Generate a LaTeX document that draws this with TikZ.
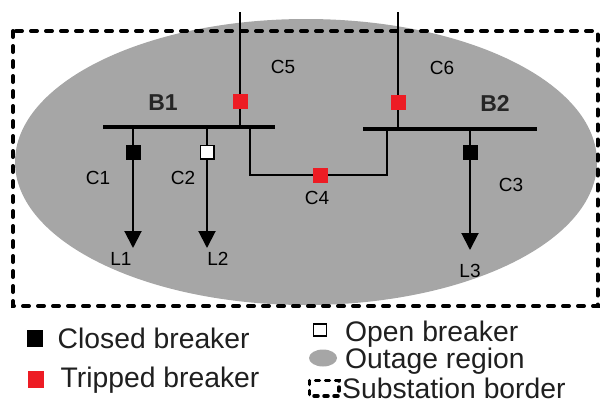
\documentclass[tikz,border=0pt]{standalone}
\usepackage{fontspec}
\setmainfont{Liberation Sans}
\usetikzlibrary{arrows.meta}
\definecolor{tripred}{RGB}{237,28,36}
\definecolor{outagegray}{RGB}{166,166,166}
\begin{document}
\begin{tikzpicture}[x=1pt,y=-1pt,
  brk/.style={minimum size=15pt, inner sep=0pt, outer sep=0pt},
  closedbrk/.style={brk, fill=black},
  openbrk/.style={brk, fill=white, draw=black, line width=1.5pt, minimum size=13.5pt},
  tripbrk/.style={brk, fill=tripred},
  lbl/.style={font=\fontsize{19}{22}\selectfont, inner sep=0pt, text depth=0pt},
  buslbl/.style={font=\bfseries\fontsize{23}{26}\selectfont, text=black!85, inner sep=0pt, text depth=0pt},
  legtext/.style={font=\fontsize{28.3}{34}\selectfont, inner sep=0pt, anchor=base west, text=black!88},
  legsq/.style={minimum width=16pt, minimum height=17pt, inner sep=0pt},
  bus/.style={line width=4pt},
  wire/.style={line width=2pt},
  load/.style={wire, -{Triangle[width=17pt,length=17pt]}},
  border/.style={line width=4pt, dash pattern=on 6pt off 9pt, line cap=round},
  outage/.style={fill=outagegray}
]
\useasboundingbox (0,0) rectangle (600,405);

% outage region
\fill[outage] (306,162) ellipse [x radius=291, y radius=143];
% substation border
\draw[border] (13,31) rectangle (597.5,306);

% buses
\coordinate (B1L) at (103,127);
\coordinate (B1R) at (275,127);
\coordinate (B2L) at (363,129);
\coordinate (B2R) at (537,129);
\draw[bus] (B1L) -- (B1R);
\draw[bus] (B2L) -- (B2R);
\node[buslbl] (B1) at (163,103) {B1};
\node[buslbl] (B2) at (495,103) {B2};

% incoming feeders
\coordinate (t5) at (240,12);
\coordinate (j5) at (240,127);
\coordinate (t6) at (398,12);
\coordinate (j6) at (398,129);
\draw[wire] (t5) -- (j5);
\draw[wire] (t6) -- (j6);
\node[tripbrk] (c5brk) at (240,101) {};
\node[tripbrk] (c6brk) at (398,102) {};
\node[lbl] (C5) at (283,67) {C5};
\node[lbl] (C6) at (442,68) {C6};

% bus tie
\coordinate (j4a) at (250,127);
\coordinate (k4a) at (250,175);
\coordinate (k4b) at (387,175);
\coordinate (j4b) at (387,129);
\draw[wire] (j4a) -- (k4a) -- (k4b) -- (j4b);
\node[tripbrk] (c4brk) at (320,175) {};
\node[lbl] (C4) at (317,198) {C4};

% loads
\coordinate (j1) at (133,127);
\coordinate (j2) at (207,127);
\coordinate (j3) at (470,129);
\coordinate (l1tip) at (133,248);
\coordinate (l2tip) at (207,248);
\coordinate (l3tip) at (470,250);
\draw[wire] (j1) -- (133,152);
\draw[wire] (j2) -- (207,152);
\draw[wire] (j3) -- (470,152);
\node[closedbrk] (c1brk) at (133,152) {};
\node[openbrk] (c2brk) at (207,152) {};
\node[closedbrk] (c3brk) at (470,152) {};
\draw[load] (c1brk) -- (l1tip);
\draw[load] (c2brk) -- (l2tip);
\draw[load] (c3brk) -- (l3tip);
\node[lbl] (C1) at (98,178) {C1};
\node[lbl] (C2) at (183,178) {C2};
\node[lbl] (C3) at (511,185) {C3};
\node[lbl] (L1) at (121,259) {L1};
\node[lbl] (L2) at (218,259) {L2};
\node[lbl] (L3) at (470,271) {L3};

% legend
\node[legsq, fill=black] (legclosed) at (35.3,338.7) {};
\node[legsq, fill=tripred] (legtrip) at (35.5,379.5) {};
\node[fill=white, draw=black, line width=1.5pt, minimum width=13pt, minimum height=12pt, inner sep=0pt] (legopen) at (320,330) {};
\fill[outage] (323,358) ellipse [x radius=14, y radius=8.5];
\draw[line width=3.5pt, dash pattern=on 4pt off 6pt, line cap=round] (309.5,380.5) rectangle (339,396);
\node[legtext] (tclosed) at (57.5,348.3) {Closed breaker};
\node[legtext] (ttrip) at (60.5,387.7) {Tripped breaker};
\node[legtext] (topen) at (345,341.5) {Open breaker};
\node[legtext] (toutage) at (345,368) {Outage region};
\node[legtext] (tborder) at (342,398) {Substation border};
\end{tikzpicture}
\end{document}
